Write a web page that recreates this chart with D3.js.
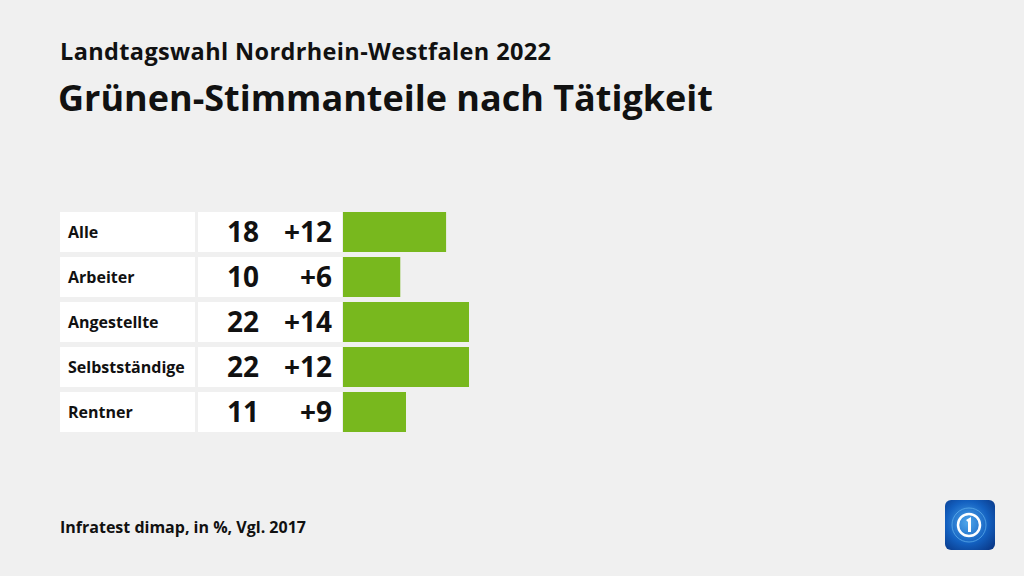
<!DOCTYPE html>
<html><head><meta charset="utf-8">
<script src="https://cdn.jsdelivr.net/npm/d3@7"></script>
<style>body{margin:0;background:#f0f0f0;}svg{display:block;font-family:"Open Sans",sans-serif;}</style>
</head><body>
<svg id="c" width="1024" height="576"></svg>
<script>
const categories = ["Alle","Arbeiter","Angestellte","Selbstständige","Rentner"];
const values = [18,10,22,22,11];
const changes = ["+12","+6","+14","+12","+9"];
const title = "Grünen-Stimmanteile nach Tätigkeit";
const subtitle = "Landtagswahl Nordrhein-Westfalen 2022";
const source = "Infratest dimap, in %, Vgl. 2017";

const svg = d3.select("#c");
svg.append("rect").attr("width",1024).attr("height",576).attr("fill","#f0f0f0");

svg.append("text").attr("x",60).attr("y",60).attr("font-size",23.5).attr("font-weight",700)
  .attr("fill","#111").attr("textLength",491).attr("lengthAdjust","spacing").text(subtitle);
svg.append("text").attr("x",58).attr("y",111).attr("font-size",36).attr("font-weight",700)
  .attr("fill","#111").text(title);

const y = d3.scaleBand().domain(categories).range([212,432]).paddingInner(5/45).paddingOuter(0);
const x = d3.scaleLinear().domain([0,22]).range([343,469]);

const g = svg.append("g");
const rows = g.selectAll("g").data(categories).join("g");
rows.append("rect").attr("x",60).attr("y",d=>y(d)).attr("width",135).attr("height",y.bandwidth()).attr("fill","#fff");
rows.append("rect").attr("x",198).attr("y",d=>y(d)).attr("width",144).attr("height",y.bandwidth()).attr("fill","#fff");
rows.append("rect").attr("x",x(0)).attr("y",d=>y(d)).attr("width",(d,i)=>x(values[i])-x(0)).attr("height",y.bandwidth()).attr("fill","#78b81e");
rows.append("text").attr("x",68).attr("y",d=>y(d)+y.bandwidth()/2).attr("dy","0.35em")
  .attr("font-size",16).attr("font-weight",700).attr("fill","#111").text(d=>d);
rows.append("text").attr("x",259).attr("y",d=>y(d)+y.bandwidth()/2).attr("dy","0.36em").attr("text-anchor","end")
  .attr("font-size",28).attr("font-weight",700).attr("fill","#111").text((d,i)=>values[i]);
rows.append("text").attr("x",332).attr("y",d=>y(d)+y.bandwidth()/2).attr("dy","0.36em").attr("text-anchor","end")
  .attr("font-size",28).attr("font-weight",700).attr("fill","#111").text((d,i)=>changes[i]);

svg.append("text").attr("x",60).attr("y",533).attr("font-size",16).attr("font-weight",700)
  .attr("fill","#111").text(source);

// logo
const defs = svg.append("defs");
const rg = defs.append("radialGradient").attr("id","lg").attr("cx","0.45").attr("cy","0.45").attr("r","0.7");
rg.append("stop").attr("offset","0").attr("stop-color","#4fa8ec");
rg.append("stop").attr("offset","0.6").attr("stop-color","#1360c0");
rg.append("stop").attr("offset","1").attr("stop-color","#0a3a8a");
const lg = svg.append("g").attr("transform","translate(945,500)");
lg.append("rect").attr("width",50).attr("height",50).attr("rx",6).attr("fill","url(#lg)");
lg.append("circle").attr("cx",24).attr("cy",25).attr("r",17).attr("fill","none").attr("stroke","#6ec0f5").attr("stroke-width",1).attr("opacity",0.6);
lg.append("circle").attr("cx",24).attr("cy",25).attr("r",11).attr("fill","none").attr("stroke","#fff").attr("stroke-width",2.5);
lg.append("path").attr("d","M21,20 L26,17 L26,32 L23,32 L23,22 Z").attr("fill","#fff");
</script>
</body></html>
